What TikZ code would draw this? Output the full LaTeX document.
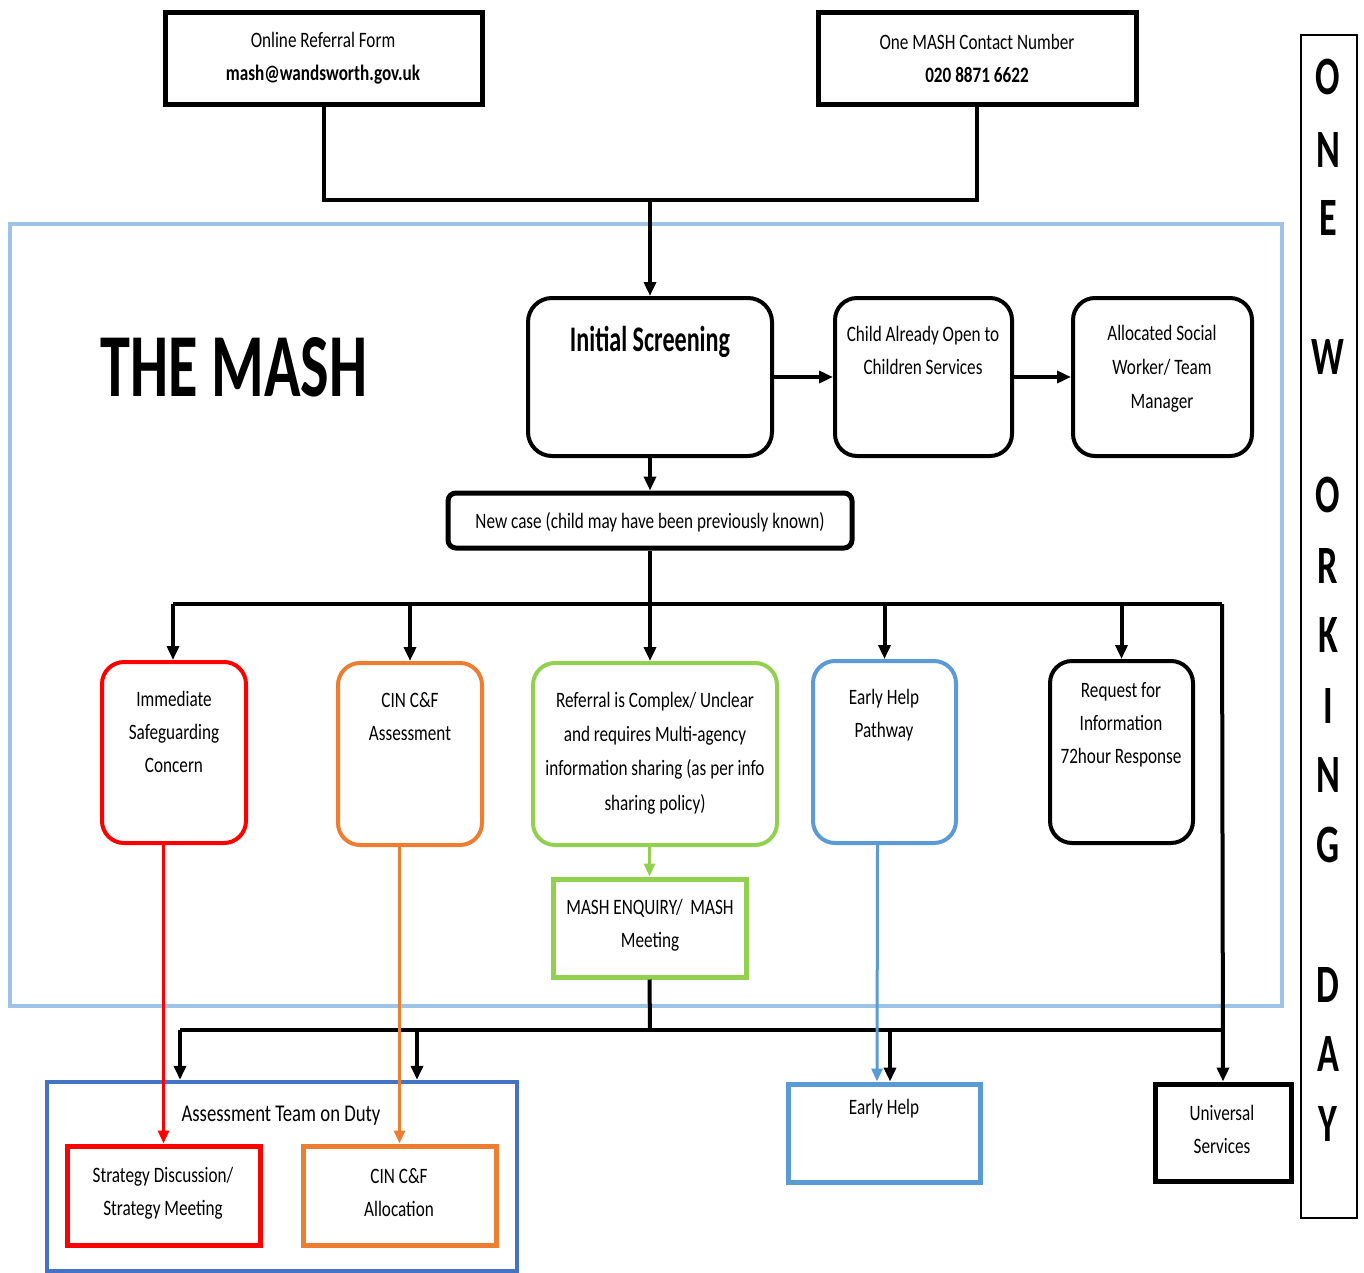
\documentclass[tikz,border=0pt]{standalone}
\usepackage{fontspec}
\setmainfont[FakeStretch=0.78]{Carlito}
\newfontfamily\headfont[FakeStretch=0.67]{Carlito}
\usetikzlibrary{arrows.meta,fit}
\definecolor{mred}{HTML}{FF0000}
\definecolor{morange}{HTML}{ED7D31}
\definecolor{mgreen}{HTML}{92D050}
\definecolor{mblue}{HTML}{5B9BD5}
\definecolor{mlight}{HTML}{9DC3E6}
\definecolor{mdark}{HTML}{4472C4}
\begin{document}
\begin{tikzpicture}[x=0.5pt,y=-0.5pt,
  frame/.style={inner sep=0pt, line width=2.5pt, draw=black},
  rbox/.style={inner sep=0pt, line width=2pt, rounded corners=11pt},
  conn/.style={line width=2pt},
  arr/.style={line width=2pt, -{Triangle[width=6pt,length=7pt]}},
  carr/.style={line width=1.5pt, -{Triangle[width=5.5pt,length=6.5pt]}},
  txt/.style={inner sep=0pt, align=center, font=\fontsize{11}{16.5}\selectfont},
  vl/.style={inner sep=0pt, font=\headfont\bfseries\fontsize{27}{27}\selectfont}]
\useasboundingbox (0,0) rectangle (1364,1273);
\fill[white] (0,0) rectangle (1364,1273);

% MASH region
\node[fit={(10,224)(1282,1006)}, inner sep=0pt, draw=mlight, line width=2pt] (mash) {};
\node[inner sep=0pt, font=\headfont\bfseries\fontsize{45}{45}\selectfont] (title) at (234,367) {THE MASH};

% top boxes
\node[fit={(165,13)(482,105)}, frame] (online) {};
\node[txt] (onlineT) at (323,58) {Online Referral Form\\\textbf{mash@wandsworth.gov.uk}};
\node[fit={(818,13)(1136,105)}, frame] (phone) {};
\node[txt] (phoneT) at (977,58) {One MASH Contact Number\\\textbf{020 8871 6622}};
\coordinate (join) at (650,200);
\draw[conn] (online.south) |- (join) -| (phone.south);

% screening row
\node[fit={(528,298)(772,456)}, rbox, draw=black, rounded corners=12pt] (init) {};
\node[inner sep=0pt, font=\headfont\bfseries\fontsize{18}{18}\selectfont] (initT) at (650,342) {Initial Screening};
\node[fit={(835,298)(1012,456)}, rbox, draw=black] (child) {};
\node[txt] (childT) at (923,350) {Child Already Open to\\Children Services};
\node[fit={(1073,298)(1252,456)}, rbox, draw=black] (alloc) {};
\node[txt, font=\fontsize{11}{17}\selectfont] (allocT) at (1162,369) {Allocated Social\\Worker/ Team\\Manager};
\draw[arr] (join) -- (init.north);
\draw[arr] (init.east) -- (child.west);
\draw[arr] (child.east) -- (alloc.west);

% new case
\node[fit={(448,493)(852,548)}, inner sep=0pt, line width=2.5pt, draw=black, rounded corners=4pt] (newcase) {};
\node[txt] (newcaseT) at (650,522) {New case (child may have been previously known)};
\draw[arr] (init.south) -- (newcase.north);

% pathway boxes
\node[fit={(102,662)(246,843)}, rbox, draw=mred] (imm) {};
\node[txt] (immT) at (174,732) {Immediate\\Safeguarding\\Concern};
\node[fit={(338,663)(482,845)}, rbox, draw=morange] (cin) {};
\node[txt] (cinT) at (410,717) {CIN C\&F\\Assessment};
\node[fit={(533,663)(777,845)}, rbox, draw=mgreen] (ref) {};
\node[txt, font=\fontsize{11}{17.2}\selectfont] (refT) at (655,753) {Referral is Complex/ Unclear\\and requires Multi-agency\\information sharing (as per info\\sharing policy)};
\node[fit={(813,661)(956,843)}, rbox, draw=mblue] (ehp) {};
\node[txt] (ehpT) at (884,715) {Early Help\\Pathway};
\node[fit={(1050,661)(1193,843)}, rbox, draw=black] (rfi) {};
\node[txt] (rfiT) at (1121,725) {Request for\\Information\\72hour Response};

% bus 1
\coordinate (bus1) at (650,604);
\coordinate (busL) at (173,604);
\coordinate (busR) at (1222,604);
\draw[conn] (newcase.south) -- (bus1);
\draw[conn] (busL) -- (busR);
\draw[arr] (busL) -- (busL |- imm.north);
\draw[arr] (bus1 -| cin.north) -- (cin.north);
\draw[arr] (bus1) -- (bus1 |- ref.north);
\draw[arr] (bus1 -| ehp.north) -- (ehp.north);
\draw[arr] (bus1 -| rfi.north) -- (rfi.north);

% MASH enquiry
\node[fit={(553,879)(746,977)}, inner sep=0pt, line width=2.5pt, draw=mgreen] (enq) {};
\node[txt] (enqT) at (650,925) {MASH ENQUIRY/\ \ MASH\\Meeting};
\draw[carr, mgreen] (enq.north |- ref.south) -- (enq.north);

% bottom boxes
\node[fit={(47,1082)(517,1271)}, inner sep=0pt, line width=2.2pt, draw=mdark] (team) {};
\node[txt, font=\fontsize{12}{12}\selectfont] (teamT) at (281,1116) {Assessment Team on Duty};
\node[fit={(67,1146)(260,1245)}, inner sep=0pt, line width=2.5pt, draw=mred] (strat) {};
\node[txt] (stratT) at (163,1193) {Strategy Discussion/\\Strategy Meeting};
\node[fit={(303,1146)(496,1245)}, inner sep=0pt, line width=2.5pt, draw=morange] (calloc) {};
\node[txt] (callocT) at (399,1193) {CIN C\&F\\Allocation};
\node[fit={(788,1084)(980,1182)}, inner sep=0pt, line width=2.5pt, draw=mblue] (eh) {};
\node[txt] (ehT) at (884,1109) {Early Help};
\node[fit={(1155,1084)(1291,1181)}, frame] (univ) {};
\node[txt] (univT) at (1222,1129) {Universal\\Services};

% bus 2
\coordinate (bus2) at (650,1030);
\coordinate (b2a) at (180,1030);
\coordinate (b2b) at (417,1030);
\coordinate (b2c) at (890,1030);
\draw[conn] (enq.south) -- (bus2);
\draw[conn] (b2a) -- (busR |- bus2);
\draw[arr] (b2a) -- (b2a |- team.north);
\draw[arr] (b2b) -- (b2b |- team.north);
\draw[arr] (b2c) -- (b2c |- eh.north);
\draw[arr] (busR) -- (univ.north);

% coloured direct routes
\draw[carr, mred] (imm.south -| strat.north) -- (strat.north);
\draw[carr, morange] (cin.south -| calloc.north) -- (calloc.north);
\draw[carr, mblue] ([xshift=-3.5pt]ehp.south) -- ([xshift=-3.5pt]eh.north);

% one working day
\node[fit={(1301,35)(1357,1218)}, inner sep=0pt, draw=black, line width=0.8pt] (owd) {};
\foreach \l/\yy in {O/77,N/150,E/218,W/357,O/495,R/566,K/635,I/706,N/775,G/845,D/985,A/1054,Y/1124}
  \node[vl] (v\yy) at (1328,\yy) {\l};
\end{tikzpicture}
\end{document}
